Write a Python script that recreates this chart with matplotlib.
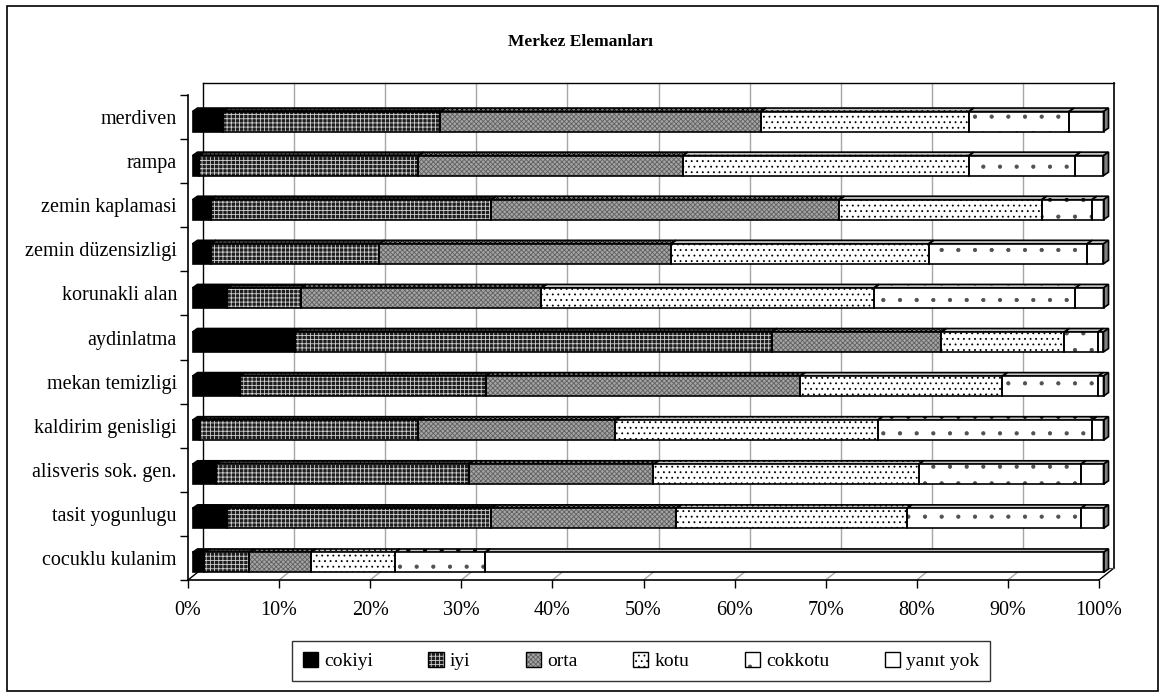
import numpy as np
import matplotlib
matplotlib.use('Agg')
import matplotlib.pyplot as plt
from matplotlib.patches import Polygon, Rectangle, Patch

plt.rcParams['font.family'] = ['Liberation Serif', 'DejaVu Serif']
plt.rcParams['hatch.linewidth'] = 0.6

# categories top -> bottom
categories = ['merdiven', 'rampa', 'zemin kaplamasi', 'zemin düzensizligi',
              'korunakli alan', 'aydinlatma', 'mekan temizligi',
              'kaldirim genisligi', 'alisveris sok. gen.', 'tasit yogunlugu',
              'cocuklu kulanim']

# percent shares
cokiyi = [3.3, 0.7, 2.0, 2.0, 3.8, 11.3, 5.2, 0.8, 2.6, 3.8, 1.3]
iyi = [23.9, 24.1, 30.8, 18.5, 8.1, 52.3, 27.0, 24.0, 27.7, 29.0, 4.9]
orta = [35.2, 29.0, 38.2, 32.0, 26.4, 18.6, 34.5, 21.6, 20.3, 20.3, 6.8]
kotu = [22.8, 31.4, 22.2, 28.3, 36.5, 13.5, 22.2, 28.8, 29.1, 25.3, 9.2]
cokkotu = [11.0, 11.7, 5.5, 17.4, 22.1, 3.7, 10.5, 23.5, 17.8, 19.1, 9.9]
yanit_yok = [3.8, 3.1, 1.3, 1.8, 3.1, 0.6, 0.6, 1.3, 2.5, 2.5, 67.9]

series_names = ['cokiyi', 'iyi', 'orta', 'kotu', 'cokkotu', 'yanıt yok']
series = [cokiyi, iyi, orta, kotu, cokkotu, yanit_yok]
xticks = list(range(0, 101, 10))

# fill, hatch, hatch colour, top face colour
styles = [
    ('#000000', None, '#000000', '#000000'),
    ('#1e1e1e', '++++', '#d0d0d0', '#3a3a3a'),
    ('#a4a4a4', 'xxxxxxx', '#606060', '#7c7c7c'),
    ('#ffffff', '...', '#000000', '#c4c4c4'),
    ('#ffffff', '.', '#505050', '#c4c4c4'),
    ('#ffffff', None, '#ffffff', '#c0c0c0'),
]

W, H = 1160, 693
fig = plt.figure(figsize=(W / 100, H / 100), dpi=100)
# front plane of the 3d plot
x0, x1, ytop, ybot = 188, 1099, 95, 580
ax = fig.add_axes([x0 / W, 1 - ybot / H, (x1 - x0) / W, (ybot - ytop) / H])
n = len(categories)
ax.set_xlim(0, 100)
ax.set_ylim(-0.5, n - 0.5)
ax.patch.set_visible(False)

kx = 100 / (x1 - x0)          # data units per pixel
ky = n / (ybot - ytop)

# back wall / floor
wdx, wdy = 15 * kx, 12 * ky
ylo, yhi = -0.5, n - 0.5
for v in xticks:
    col = '#a6a6a6' if 0 < v < 100 else 'black'
    if 0 < v < 100:
        ax.plot([v + wdx, v + wdx], [ylo + wdy, yhi + wdy], color=col, lw=1, zorder=1, clip_on=False)
    ax.plot([v, v + wdx], [ylo, ylo + wdy], color=col, lw=1, zorder=1, clip_on=False)
ax.plot([wdx, wdx], [ylo + wdy, yhi + wdy], color='black', lw=1, zorder=1, clip_on=False)
ax.plot([100 + wdx, 100 + wdx], [ylo + wdy, yhi + wdy], color='black', lw=1.2, zorder=1, clip_on=False)
ax.plot([wdx, 100 + wdx], [yhi + wdy, yhi + wdy], color='black', lw=1, zorder=1, clip_on=False)
ax.plot([wdx, 100 + wdx], [ylo + wdy, ylo + wdy], color='#505050', lw=0.8, zorder=1, clip_on=False)


def face(pts, fc, hatch, hc, z):
    ax.add_patch(Polygon(pts, closed=True, facecolor=fc, edgecolor=hc, hatch=hatch,
                         lw=0, zorder=z, clip_on=False))
    ax.add_patch(Polygon(pts, closed=True, fill=False, edgecolor='black', lw=1.2,
                         zorder=z + 0.05, clip_on=False))


# bars
sx, sy = 4.5 * kx, -4.5 * ky      # shift of bar front face
bdx, bdy = 5 * kx, 3.5 * ky       # bar depth
bh = 20 * ky
ypos = np.arange(n)[::-1]
for i, yc in enumerate(ypos):
    left = 0.0
    yb = yc + sy - bh / 2
    yt = yc + sy + bh / 2
    for k, vals in enumerate(series):
        w = vals[i]
        fc, hatch, hc, top = styles[k]
        a = left + sx
        b = left + w + sx
        face([(a, yt), (b, yt), (b + bdx, yt + bdy), (a + bdx, yt + bdy)], top, hatch,
             '#000000' if hatch else top, 3)
        face([(a, yb), (b, yb), (b, yt), (a, yt)], fc, hatch, hc, 4)
        left += w
    b = left + sx
    face([(b, yb), (b + bdx, yb + bdy), (b + bdx, yt + bdy), (b, yt)], '#808080', None, '#808080', 4)

# axes
ax.set_xticks(xticks)
ax.set_xticklabels([f'{v}%' for v in xticks])
ax.set_yticks(ypos)
ax.set_yticklabels(categories)
ax.set_yticks(np.arange(-0.5, n, 1), minor=True)
ax.tick_params(axis='x', length=5.8, width=1, pad=9, labelsize=14.5, colors='black')
ax.tick_params(axis='y', which='major', length=0, pad=8, labelsize=14.5)
ax.tick_params(axis='y', which='minor', length=5.8, width=1)
for s in ['top', 'right']:
    ax.spines[s].set_visible(False)
for s in ['left', 'bottom']:
    ax.spines[s].set_linewidth(1.2)

# title and frame
fig.text(580 / W, 1 - 42 / H, 'Merkez Elemanları', ha='center', va='center',
         fontsize=12.5, fontweight='bold')
fig.patches.append(Rectangle((7 / W, 2 / H), (1158 - 7) / W, (689 - 4) / H,
                             transform=fig.transFigure, fill=False, ec='black', lw=1.2))

# legend
handles = []
for fc, hatch, hc, top in styles:
    handles.append((Patch(facecolor=fc, edgecolor=hc, hatch=hatch, lw=0),
                    Patch(fill=False, edgecolor='black', lw=1)))
leg = fig.legend(handles, series_names, loc='center', bbox_to_anchor=(641 / W, 1 - 661 / H),
                 ncol=6, fontsize=14, frameon=True, fancybox=False, edgecolor='black',
                 handlelength=0.8, handleheight=0.8, handletextpad=0.3, columnspacing=2.85,
                 borderpad=0.55)
leg.get_frame().set_linewidth(1)

fig.savefig('out.png', dpi=100)
